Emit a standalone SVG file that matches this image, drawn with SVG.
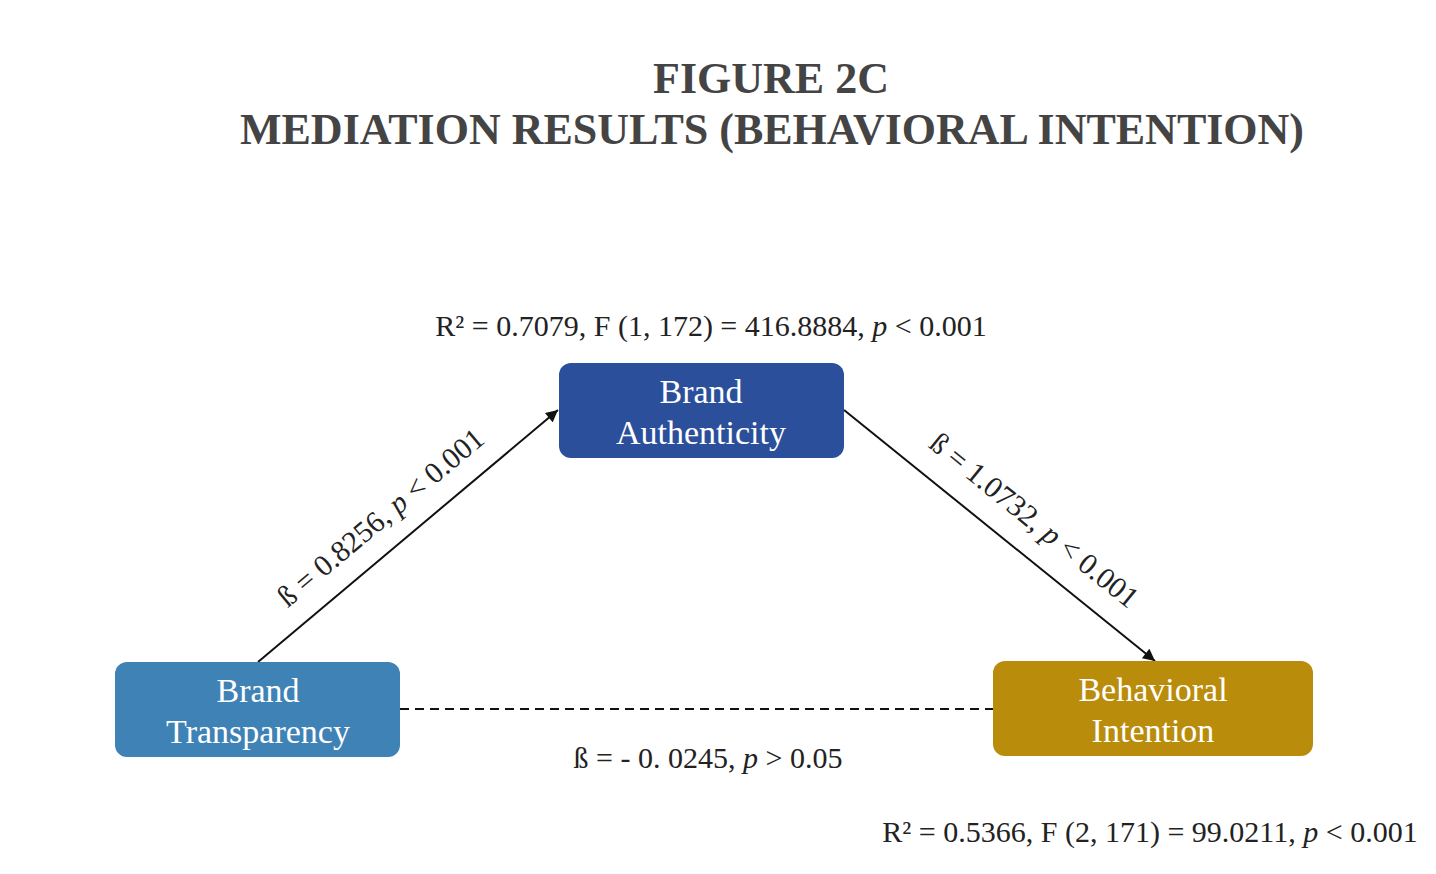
<svg xmlns="http://www.w3.org/2000/svg" width="1436" height="874" viewBox="0 0 1436 874">
<style>
.title{font-family:"Liberation Serif","Times New Roman",serif;font-weight:bold;font-size:44px;fill:#444444;text-anchor:middle}
.lbl{font-family:"Liberation Serif","Times New Roman",serif;font-size:30px;fill:#222222}
.node-text{font-family:"Liberation Serif","Times New Roman",serif;font-size:34px;fill:#ffffff;text-anchor:middle}
.conn{stroke:#111111;stroke-width:2;fill:none}
</style>
<defs>
<marker id="arrowB" viewBox="0 0 10 10" refX="10" refY="5" markerWidth="14" markerHeight="12" markerUnits="userSpaceOnUse" orient="auto">
<path d="M0,0 L10,5 L0,10 z" fill="#111111"/>
</marker>
</defs>
<rect width="1436" height="874" fill="#ffffff"/>
<g id="title">
<text class="title" x="771" y="93">FIGURE 2C</text>
<text class="title" x="772" y="144">MEDIATION RESULTS (BEHAVIORAL INTENTION)</text>
</g>
<g id="connectors">
<line class="conn" x1="258" y1="662" x2="558" y2="410" marker-end="url(#arrowB)"/>
<line class="conn" x1="844" y1="410" x2="1155" y2="661" marker-end="url(#arrowB)"/>
<line class="conn" x1="400" y1="709" x2="993" y2="709" stroke-dasharray="9,6"/>
<text class="lbl" text-anchor="middle" transform="translate(387,525) rotate(-40)">ß = 0.8256, <tspan font-style="italic">p</tspan> &lt; 0.001</text>
<text class="lbl" text-anchor="middle" transform="translate(1028,528) rotate(39)">ß = 1.0732, <tspan font-style="italic">p</tspan> &lt; 0.001</text>
<text class="lbl" text-anchor="middle" x="708" y="768">ß = - 0. 0245, <tspan font-style="italic">p</tspan> &gt; 0.05</text>
</g>
<g id="stats">
<text class="lbl" text-anchor="middle" x="711" y="336">R² = 0.7079, F (1, 172) = 416.8884, <tspan font-style="italic">p</tspan> &lt; 0.001</text>
<text class="lbl" text-anchor="middle" x="1150" y="842">R² = 0.5366, F (2, 171) = 99.0211, <tspan font-style="italic">p</tspan> &lt; 0.001</text>
</g>
<g id="node-brand-authenticity">
<rect x="559" y="363" width="285" height="95" rx="12" fill="#2b4f9b"/>
<text class="node-text" x="701" y="403">Brand</text>
<text class="node-text" x="701" y="444">Authenticity</text>
</g>
<g id="node-brand-transparency">
<rect x="115" y="662" width="285" height="95" rx="12" fill="#3f82b6"/>
<text class="node-text" x="258" y="702">Brand</text>
<text class="node-text" x="258" y="743">Transparency</text>
</g>
<g id="node-behavioral-intention">
<rect x="993" y="661" width="320" height="95" rx="12" fill="#b98c0b"/>
<text class="node-text" x="1153" y="701">Behavioral</text>
<text class="node-text" x="1153" y="742">Intention</text>
</g>
</svg>
